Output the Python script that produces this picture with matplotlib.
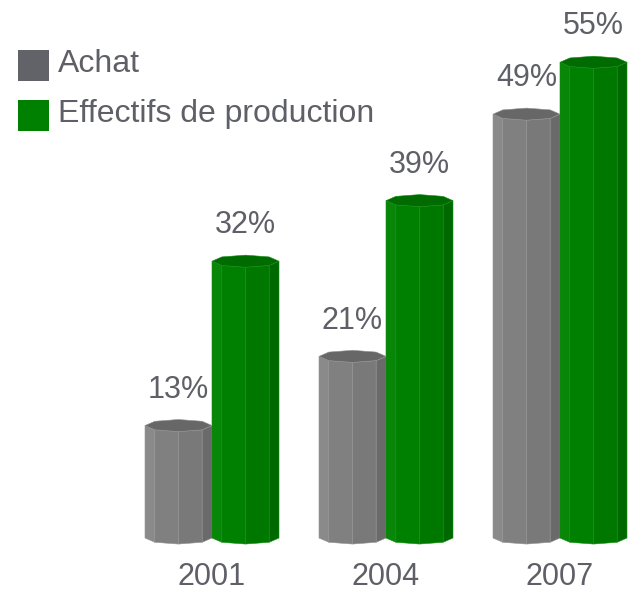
import numpy as np
import matplotlib
matplotlib.use("Agg")
import matplotlib.pyplot as plt
from matplotlib.patches import Polygon, Rectangle

years = ["2001", "2004", "2007"]
achat = [13, 21, 49]
effectifs = [32, 39, 55]
series_names = ["Achat", "Effectifs de production"]

TXT = "#5f6067"
FONT = "Liberation Sans"

fig = plt.figure(figsize=(6.36, 5.92), dpi=100)
ax = fig.add_axes([0, 0, 1, 1])
ax.set_xlim(-212 / 174, (636 - 212) / 174)
ax.set_ylim(-54 / 8.65, 538 / 8.65)
ax.axis("off")

W = 0.385
D = 0.7  # half depth of the octagon caps (in % units)
angles = np.deg2rad(np.arange(180, 361, 45))

def cylinder(x0, w, h, face_cols, cap_col, edge_col):
    xs = x0 + w * (1 + np.cos(angles)) / 2
    ys = D * np.sin(angles)
    for k in range(len(angles) - 1):
        quad = [(xs[k], h + ys[k]), (xs[k + 1], h + ys[k + 1]),
                (xs[k + 1], ys[k + 1]), (xs[k], ys[k])]
        ax.add_patch(Polygon(quad, closed=True, facecolor=face_cols[k],
                             edgecolor=edge_col, linewidth=0.4, zorder=2))
    th = np.deg2rad(np.arange(0, 360, 45))
    cap = np.column_stack([x0 + w * (1 + np.cos(th)) / 2, h + D * np.sin(th)])
    ax.add_patch(Polygon(cap, closed=True, facecolor=cap_col,
                         edgecolor=edge_col, linewidth=0.4, zorder=3))

gray_faces = ["#8a8a8a", "#808080", "#797979", "#6a6a6a"]
green_faces = ["#078607", "#008000", "#007800", "#006800"]

for i, (a, e) in enumerate(zip(achat, effectifs)):
    cylinder(i - W, W, a, gray_faces, "#676767", "#939393")
    cylinder(i, W, e, green_faces, "#006b00", "#138d13")
    ax.text(i - W / 2, a + 2.4, f"{a}%", ha="center", va="bottom",
            fontsize=22, color=TXT, family=FONT, zorder=5)
    ax.text(i + W / 2, e + 2.4, f"{e}%", ha="center", va="bottom",
            fontsize=22, color=TXT, family=FONT, zorder=5)
    ax.text(i, -4.5, years[i], ha="center", va="center",
            fontsize=22, color=TXT, family=FONT)

# legend (figure pixel coordinates)
H = 592
leg_cols = ["#626369", "#008000"]
for j, (name, col) in enumerate(zip(series_names, leg_cols)):
    top = 50 + j * 50
    fig.patches.append(Rectangle((18 / 636, (H - top - 31) / H), 31 / 636, 31 / H,
                                 transform=fig.transFigure, facecolor=col,
                                 edgecolor="none"))
    fig.text(58 / 636, (H - top - 22) / H, name, ha="left", va="baseline",
             fontsize=23, color=TXT, family=FONT)

fig.savefig("out.png", dpi=100)
